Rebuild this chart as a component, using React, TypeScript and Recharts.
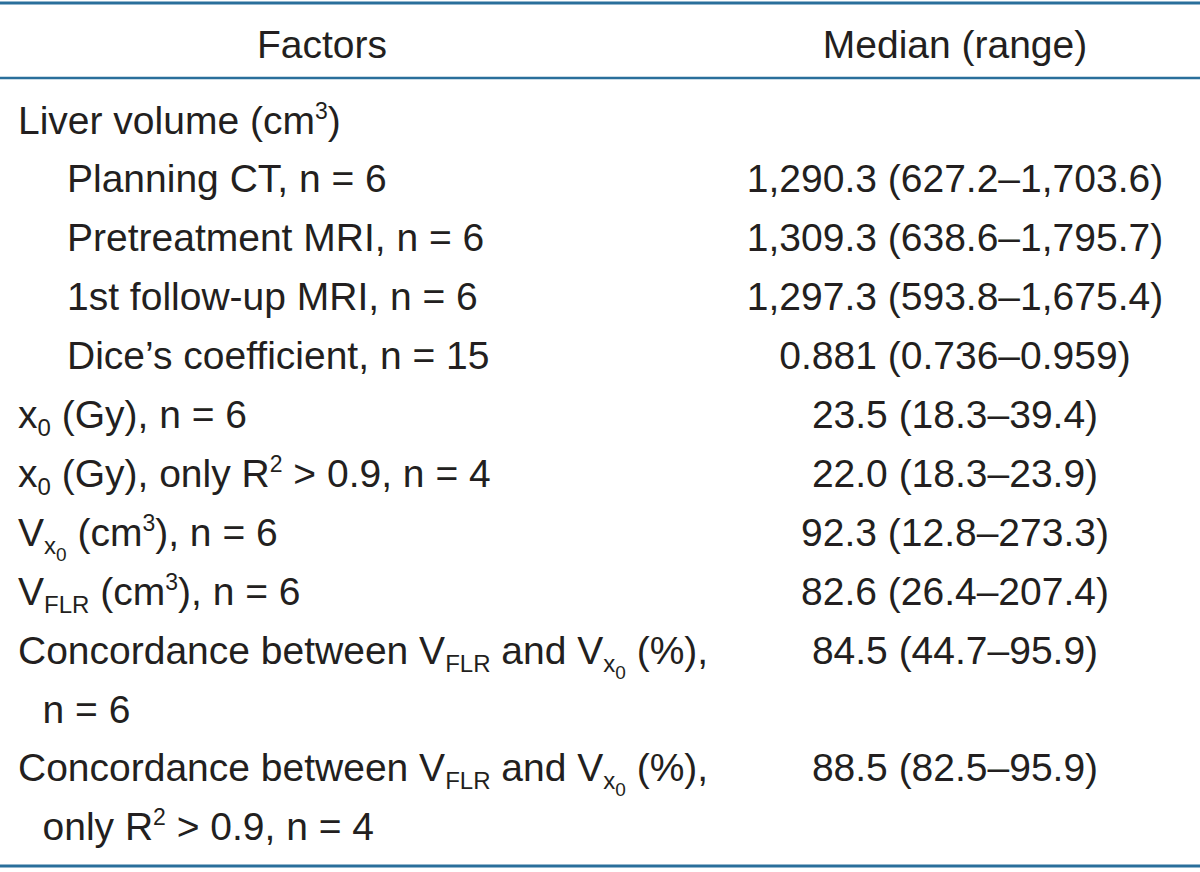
import React from "react";
import { ScatterChart, Scatter, XAxis, YAxis, ReferenceLine } from "recharts";

// markup: _{..} subscript, ^{..} superscript, ~{..} second-level subscript
const headers = ["Factors", "Median (range)"];

const factors = [
  "Liver volume (cm^{3})",
  "Planning CT, n = 6",
  "Pretreatment MRI, n = 6",
  "1st follow-up MRI, n = 6",
  "Dice’s coefficient, n = 15",
  "x_{0} (Gy), n = 6",
  "x_{0} (Gy), only R^{2} > 0.9, n = 4",
  "V_{x}~{0} (cm^{3}), n = 6",
  "V_{FLR} (cm^{3}), n = 6",
  "Concordance between V_{FLR} and V_{x}~{0} (%),",
  "n = 6",
  "Concordance between V_{FLR} and V_{x}~{0} (%),",
  "only R^{2} > 0.9, n = 4",
];

const indents = [0, 1, 1, 1, 1, 0, 0, 0, 0, 0, 0.5, 0, 0.5];

const medians = [
  "",
  "1,290.3 (627.2–1,703.6)",
  "1,309.3 (638.6–1,795.7)",
  "1,297.3 (593.8–1,675.4)",
  "0.881 (0.736–0.959)",
  "23.5 (18.3–39.4)",
  "22.0 (18.3–23.9)",
  "92.3 (12.8–273.3)",
  "82.6 (26.4–207.4)",
  "84.5 (44.7–95.9)",
  "",
  "88.5 (82.5–95.9)",
  "",
];

const W = 1200;
const H = 872;
const FONT = "'Liberation Sans', Arial, sans-serif";
const TEXT = "#231f20";
const RULE = "#2a6f9b";
const LEFT_X = 18;
const INDENT = 49;
const FACTOR_HEAD_X = 322;
const MEDIAN_X = 955;
const HEADER_ROW = -1.28;

const leftRows = factors.map((label, i) => ({ x: LEFT_X + indents[i] * INDENT, y: i, label }));
const rightRows = medians
  .map((label, i) => ({ x: MEDIAN_X, y: i, label }))
  .filter((d) => d.label !== "");
const headRows = [
  { x: FACTOR_HEAD_X, y: HEADER_ROW, label: headers[0] },
  { x: MEDIAN_X, y: HEADER_ROW, label: headers[1] },
];

type Seg = { text: string; kind: "n" | "sub" | "sup" | "sub2" };

function parseRich(s: string): Seg[] {
  const out: Seg[] = [];
  const re = /([_^~])\{([^}]*)\}/g;
  let last = 0;
  let m: RegExpExecArray | null;
  while ((m = re.exec(s))) {
    if (m.index > last) out.push({ text: s.slice(last, m.index), kind: "n" });
    const kind = m[1] === "_" ? "sub" : m[1] === "^" ? "sup" : "sub2";
    out.push({ text: m[2], kind });
    last = re.lastIndex;
  }
  if (last < s.length) out.push({ text: s.slice(last), kind: "n" });
  return out;
}

const segStyle = {
  n: { size: 39, off: 0 },
  sub: { size: 24, off: 8 },
  sup: { size: 23, off: -15 },
  sub2: { size: 19, off: 15 },
};

const RichText = ({ x, y, label, anchor }: { x: number; y: number; label: string; anchor: "start" | "middle" }) => {
  let cur = 0;
  const segs = parseRich(label);
  return (
    <text x={x} y={y} textAnchor={anchor} fontFamily={FONT} fontSize={39} fill={TEXT}>
      {segs.map((s, k) => {
        const st = segStyle[s.kind];
        const dy = st.off - cur;
        cur = st.off;
        return (
          <tspan key={k} dy={dy} fontSize={st.size}>
            {s.text}
          </tspan>
        );
      })}
    </text>
  );
};

const startShape = (p: any) => <RichText x={p.cx} y={p.cy} label={p.payload.label} anchor="start" />;
const middleShape = (p: any) => <RichText x={p.cx} y={p.cy} label={p.payload.label} anchor="middle" />;

export default function App() {
  return (
    <div style={{ position: "absolute", left: 0, top: 0, width: W, height: H, background: "#fff" }}>
      <ScatterChart width={W} height={H} margin={{ top: 0, right: 0, bottom: 0, left: 0 }}>
        <XAxis type="number" dataKey="x" domain={[0, W]} allowDataOverflow hide />
        <YAxis type="number" dataKey="y" domain={[-2.2666, 12.538]} reversed allowDataOverflow hide />
        <ReferenceLine y={-2.216} stroke={RULE} strokeWidth={3} />
        <ReferenceLine y={-0.942} stroke={RULE} strokeWidth={2.5} />
        <ReferenceLine y={12.436} stroke={RULE} strokeWidth={3} />
        <Scatter data={headRows} shape={middleShape} isAnimationActive={false} />
        <Scatter data={leftRows} shape={startShape} isAnimationActive={false} />
        <Scatter data={rightRows} shape={middleShape} isAnimationActive={false} />
      </ScatterChart>
    </div>
  );
}
